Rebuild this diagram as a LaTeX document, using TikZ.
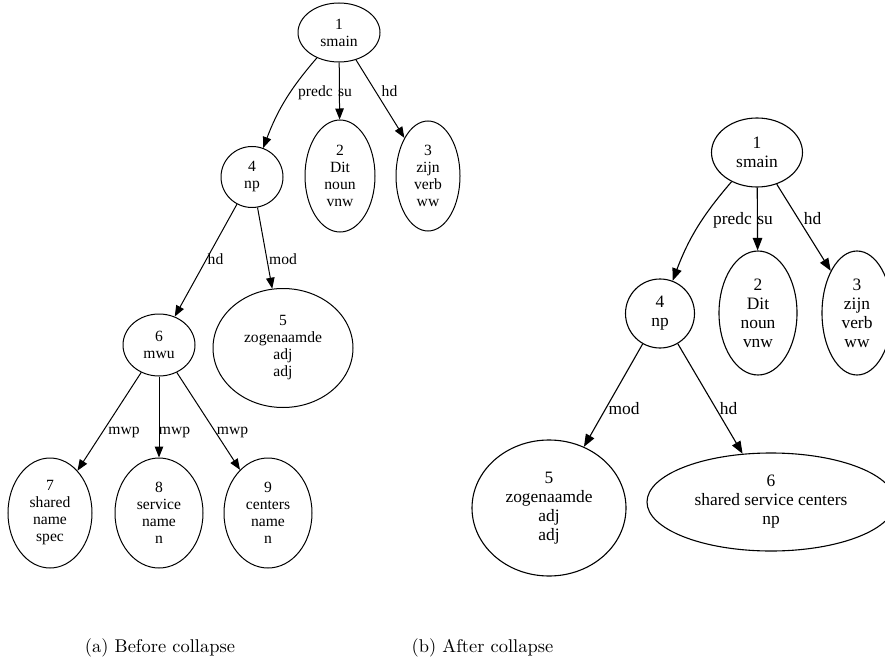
\documentclass[tikz,border=0pt]{standalone}
\usepackage{fontspec}
\usepackage{graphicx}
\usetikzlibrary{shapes.geometric,arrows.meta}
\newfontfamily\gvfont{Liberation Serif}

\tikzset{
  sz/.style 2 args={minimum width=#1pt, minimum height=#2pt},
  lnode/.style={ellipse, draw, line width=1pt, inner sep=0pt, align=center,
    font=\gvfont\fontsize{15.6}{17}\selectfont},
  rnode/.style={ellipse, draw, line width=1.1pt, inner sep=0pt, align=center,
    font=\gvfont\fontsize{17.4}{19}\selectfont},
  ledge/.style={-{Triangle[length=11pt,width=8.5pt]}, line width=1pt},
  redge/.style={-{Triangle[length=12.5pt,width=9.5pt]}, line width=1.1pt},
  llab/.style={anchor=base, inner sep=0pt, font=\gvfont\fontsize{15.6}{17}\selectfont},
  rlab/.style={anchor=base, inner sep=0pt, font=\gvfont\fontsize{17.4}{19}\selectfont},
  captext/.style={anchor=base, inner sep=0pt}
}

\begin{document}
\begin{tikzpicture}[x=1pt, y=-1pt]
\useasboundingbox (0,0) rectangle (885,660);
\clip (0,0) rectangle (885,660);

% (a) tree before collapsing the multi-word unit
\node[lnode, sz={82}{59}]   (l1) at (339,32.5) {1\\smain};
\node[lnode, sz={70}{112}]  (l2) at (340,176)  {2\\Dit\\noun\\vnw};
\node[lnode, sz={64}{110}]  (l3) at (428,176)  {3\\zijn\\verb\\ww};
\node[lnode, sz={62}{61}]   (l4) at (252,177)  {4\\np};
\node[lnode, sz={140}{119}] (l5) at (283,348)  {5\\zogenaamde\\adj\\adj};
\node[lnode, sz={72}{62}]   (l6) at (159,345)  {6\\mwu};
\node[lnode, sz={84}{110}]  (l7) at (50,513)   {7\\shared\\name\\spec};
\node[lnode, sz={88}{110}]  (l8) at (159,513)  {8\\service\\name\\n};
\node[lnode, sz={88}{110}]  (l9) at (268,513)  {9\\centers\\name\\n};

\draw[ledge] (l1) to[bend right=10] (l4);
\draw[ledge] (l1) -- (l2);
\draw[ledge] (l1) -- (l3);
\draw[ledge] (l4) -- (l6);
\draw[ledge] (l4) -- (l5);
\draw[ledge] (l6) -- (l7);
\draw[ledge] (l6) -- (l8);
\draw[ledge] (l6) -- (l9);

\node[llab] (la1) at (315.5,96.5) {predc};
\node[llab] (la2) at (345,96.5)   {su};
\node[llab] (la3) at (389.5,96.5) {hd};
\node[llab] (la4) at (215.5,264)  {hd};
\node[llab] (la5) at (283,264)    {mod};
\node[llab] (la6) at (124,434)    {mwp};
\node[llab] (la7) at (174.5,434)  {mwp};
\node[llab] (la8) at (232.5,434)  {mwp};

% (b) tree after collapsing it into one node
\node[rnode, sz={91}{69}]   (r1) at (757,152.5) {1\\smain};
\node[rnode, sz={78}{124}]  (r2) at (758,313)   {2\\Dit\\noun\\vnw};
\node[rnode, sz={70}{124}]  (r3) at (857,313)   {3\\zijn\\verb\\ww};
\node[rnode, sz={69}{69}]   (r4) at (660,313.5) {4\\np};
\node[rnode, sz={154}{136}] (r5) at (549,508)   {5\\zogenaamde\\adj\\adj};
\node[rnode, sz={248}{98}]  (r6) at (771,502)   {6\\shared service centers\\np};

\draw[redge] (r1) to[bend right=10] (r4);
\draw[redge] (r1) -- (r2);
\draw[redge] (r1) -- (r3);
\draw[redge] (r4) -- (r5);
\draw[redge] (r4) -- (r6);

\node[rlab] (ra1) at (732.5,225) {predc};
\node[rlab] (ra2) at (765,225)   {su};
\node[rlab] (ra3) at (812.5,225) {hd};
\node[rlab] (ra4) at (624,414)   {mod};
\node[rlab] (ra5) at (728.5,414) {hd};

% sub-captions
\node[captext] (capa) at (160,652)   {\scalebox{1.845}{(a) Before collapse}};
\node[captext] (capb) at (482.5,652) {\scalebox{1.845}{(b) After collapse}};
\end{tikzpicture}
\end{document}
